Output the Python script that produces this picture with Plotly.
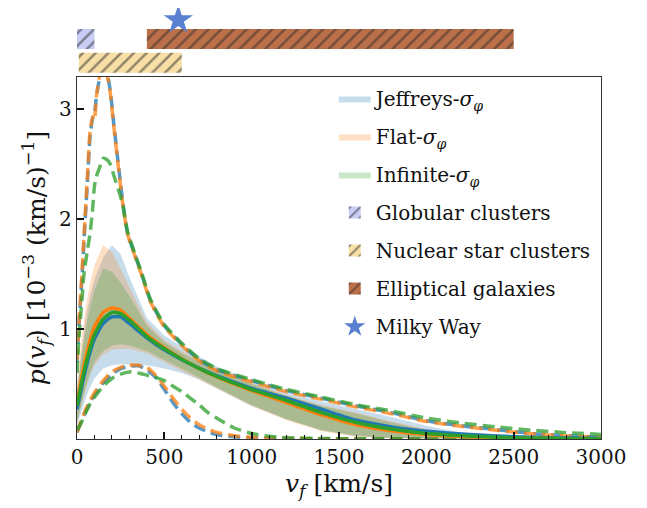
import plotly.graph_objects as go

# ---------------- data ----------------
V = [0, 25, 50, 75, 100, 150, 200, 250, 300, 400, 500, 600, 700, 800, 1000,
     1200, 1400, 1600, 1800, 2000, 2200, 2400, 2600, 2800, 3000]

med_jeffreys = [0.27, 0.46, 0.64, 0.79, 0.91, 1.05, 1.11, 1.11, 1.05, 0.92, 0.81, 0.72, 0.645, 0.575, 0.46,
                0.37, 0.27, 0.17, 0.11, 0.07, 0.045, 0.027, 0.015, 0.008, 0.004]
med_flat = [0.33, 0.55, 0.74, 0.90, 1.02, 1.15, 1.19, 1.17, 1.10, 0.95, 0.83, 0.73, 0.64, 0.565, 0.44,
            0.33, 0.22, 0.13, 0.075, 0.04, 0.022, 0.012, 0.006, 0.003, 0.001]
med_infinite = [0.30, 0.50, 0.68, 0.83, 0.95, 1.09, 1.15, 1.14, 1.08, 0.93, 0.82, 0.725, 0.64, 0.57, 0.45,
                0.35, 0.24, 0.15, 0.09, 0.05, 0.03, 0.015, 0.008, 0.004, 0.002]

band_hi_jeffreys = [0.45, 0.80, 1.10, 1.30, 1.45, 1.65, 1.76, 1.68, 1.47, 1.10, 0.94, 0.84, 0.75, 0.66, 0.53,
                    0.42, 0.34, 0.27, 0.20, 0.12, 0.06, 0.03, 0.015, 0.008, 0.004]
band_hi_flat = [0.50, 0.90, 1.20, 1.42, 1.58, 1.76, 1.70, 1.55, 1.38, 1.06, 0.90, 0.80, 0.72, 0.64, 0.51,
                0.40, 0.31, 0.24, 0.16, 0.09, 0.045, 0.02, 0.01, 0.005, 0.002]
band_hi_infinite = [0.42, 0.75, 1.00, 1.20, 1.35, 1.55, 1.52, 1.42, 1.30, 1.03, 0.88, 0.78, 0.70, 0.62, 0.50,
                    0.39, 0.30, 0.23, 0.15, 0.08, 0.04, 0.02, 0.01, 0.005, 0.002]

band_lo_jeffreys = [0.12, 0.25, 0.37, 0.47, 0.55, 0.64, 0.67, 0.68, 0.68, 0.67, 0.64, 0.60, 0.54, 0.46, 0.30,
                    0.18, 0.08, 0.025, 0.01, 0.005, 0.002, 0.001, 0.0, 0.0, 0.0]
band_lo_flat = [0.15, 0.30, 0.45, 0.58, 0.67, 0.77, 0.81, 0.82, 0.82, 0.78, 0.70, 0.62, 0.54, 0.46, 0.30,
                0.17, 0.07, 0.02, 0.008, 0.004, 0.002, 0.001, 0.0, 0.0, 0.0]
band_lo_infinite = [0.15, 0.32, 0.48, 0.60, 0.70, 0.80, 0.85, 0.86, 0.85, 0.80, 0.72, 0.64, 0.56, 0.47, 0.31,
                    0.18, 0.08, 0.03, 0.01, 0.005, 0.002, 0.001, 0.0, 0.0, 0.0]

VU = [0, 10, 20, 30, 40, 60, 75, 90, 100, 110, 130, 150, 170, 190, 210, 240, 260, 290, 330, 370, 420,
      500, 600, 700, 800, 1000, 1200, 1400, 1600, 1800, 2000, 2200, 2400, 2600, 2800, 3000]
outer_hi_jeffreys = [0.70, 1.00, 1.25, 1.50, 1.80, 2.35, 2.75, 2.92, 2.95, 3.10, 3.28, 3.36, 3.33, 3.17, 2.87,
                     2.45, 2.18, 1.87, 1.68, 1.50, 1.26, 1.03, 0.86, 0.72, 0.63, 0.53, 0.44, 0.37, 0.30,
                     0.24, 0.165, 0.12, 0.085, 0.05, 0.03, 0.018]
outer_hi_flat = [0.72, 1.02, 1.28, 1.55, 1.85, 2.40, 2.80, 2.93, 2.90, 3.10, 3.30, 3.38, 3.32, 3.15, 2.85,
                 2.43, 2.16, 1.86, 1.67, 1.49, 1.25, 1.02, 0.85, 0.71, 0.62, 0.52, 0.43, 0.36, 0.29,
                 0.23, 0.16, 0.115, 0.08, 0.048, 0.028, 0.016]
outer_hi_infinite = [0.60, 0.90, 1.10, 1.30, 1.50, 1.72, 1.87, 2.10, 2.30, 2.38, 2.47, 2.55, 2.54, 2.50, 2.40,
                     2.25, 2.14, 1.88, 1.69, 1.51, 1.27, 1.04, 0.87, 0.73, 0.64, 0.54, 0.45, 0.38, 0.31,
                     0.255, 0.19, 0.145, 0.11, 0.08, 0.058, 0.042]

VL = [0, 25, 50, 75, 100, 150, 200, 250, 300, 350, 400, 450, 500, 550, 600, 650, 700, 750, 800, 900,
      1000, 1100, 1200, 1400, 1600, 2000, 2500, 3000]
outer_lo_jeffreys = [0.06, 0.16, 0.25, 0.33, 0.40, 0.51, 0.59, 0.64, 0.66, 0.665, 0.63, 0.56, 0.45, 0.33,
                     0.23, 0.15, 0.10, 0.065, 0.04, 0.02, 0.01, 0.006, 0.004, 0.002, 0.001, 0.0, 0.0, 0.0]
outer_lo_flat = [0.06, 0.17, 0.27, 0.35, 0.42, 0.53, 0.61, 0.65, 0.67, 0.67, 0.65, 0.58, 0.48, 0.37,
                 0.27, 0.19, 0.13, 0.09, 0.06, 0.03, 0.015, 0.008, 0.005, 0.002, 0.001, 0.0, 0.0, 0.0]
outer_lo_infinite = [0.08, 0.15, 0.24, 0.32, 0.38, 0.48, 0.55, 0.59, 0.61, 0.60, 0.58, 0.56, 0.53, 0.48,
                     0.43, 0.37, 0.31, 0.24, 0.19, 0.10, 0.05, 0.025, 0.012, 0.005, 0.002, 0.001, 0.0, 0.0]

model_names = ["Jeffreys-<i>σ</i><sub><i>φ</i></sub>", "Flat-<i>σ</i><sub><i>φ</i></sub>",
               "Infinite-<i>σ</i><sub><i>φ</i></sub>"]

# observed ranges of v_f [km/s]
range_names = ["Globular clusters", "Nuclear star clusters", "Elliptical galaxies"]
range_lo = [0, 10, 400]
range_hi = [100, 600, 2500]
milky_way_vf = 580

# ---------------- style ----------------
colors = ["#1f77b4", "#ff7f0e", "#2ca02c"]
fills = ["rgba(31,119,180,0.25)", "rgba(255,127,14,0.25)", "rgba(44,160,44,0.25)"]
range_colors = ["#c9cdf5", "#f8dfa6", "#bc7049"]
range_rows = [37, 13.3, 37]
FONT = "DejaVu Serif"

fig = go.Figure()

meds = [med_jeffreys, med_flat, med_infinite]
his = [band_hi_jeffreys, band_hi_flat, band_hi_infinite]
los = [band_lo_jeffreys, band_lo_flat, band_lo_infinite]
ohi = [outer_hi_jeffreys, outer_hi_flat, outer_hi_infinite]
olo = [outer_lo_jeffreys, outer_lo_flat, outer_lo_infinite]

for i in range(3):
    fig.add_trace(go.Scatter(
        x=V + V[::-1], y=his[i] + los[i][::-1], fill="toself", fillcolor=fills[i],
        mode="lines", line=dict(width=0), name=model_names[i], legendgroup=f"g{i}",
        hoverinfo="skip"))

for i in range(3):
    for xs, ys in ((VU, ohi[i]), (VL, olo[i])):
        fig.add_trace(go.Scatter(x=xs, y=ys, mode="lines", showlegend=False,
                                 line=dict(color=colors[i], width=3.5, dash="12px,6px",
                                           shape="spline", smoothing=0.6),
                                 opacity=0.75))

for i in range(3):
    fig.add_trace(go.Scatter(x=V, y=meds[i], mode="lines", showlegend=False,
                             line=dict(color=colors[i], width=3.5, shape="spline", smoothing=0.6)))

for j in range(3):
    fig.add_trace(go.Bar(
        y=[range_rows[j]], x=[range_hi[j] - range_lo[j]], base=[range_lo[j]], orientation="h",
        width=20, name=range_names[j], legendgroup=f"r{j}",
        marker=dict(color=range_colors[j], line=dict(width=0),
                    pattern=dict(shape="/", fgcolor="#2a2a2a", size=9, solidity=0.28)),
        xaxis="x2", yaxis="y2", hoverinfo="skip"))

fig.add_trace(go.Scatter(x=[milky_way_vf], y=[56], mode="markers", name="Milky Way", legendgroup="mw",
                         marker=dict(symbol="star", size=22, color="#5b80d0"),
                         xaxis="x2", yaxis="y2", cliponaxis=False))

axis_common = dict(showline=True, linecolor="#333333", linewidth=1.3, mirror=True, showgrid=False,
                   zeroline=False, ticks="inside", ticklen=7, tickwidth=1.5, tickcolor="#111111",
                   automargin=False,
                   tickfont=dict(family=FONT, size=20, color="#111111"))

# the page body adds an 8px offset, so the figure is laid out 8px smaller
fig.update_layout(
    width=639, height=500,
    margin=dict(l=69, r=46, t=0, b=69),
    plot_bgcolor="white", paper_bgcolor="white",
    barmode="overlay",
    font=dict(family=FONT, color="#111111"),
    xaxis=dict(range=[0, 3000], tickvals=[0, 500, 1000, 1500, 2000, 2500, 3000],
               minor=dict(dtick=100, ticks="inside", ticklen=4, tickwidth=1.2, tickcolor="#111111"),
               title=dict(text="<i>v</i><sub><i>f</i></sub> [km/s]", font=dict(family=FONT, size=25), standoff=2),
               **axis_common),
    yaxis=dict(domain=[0, 0.8399], range=[0, 3.29], tickvals=[1, 2, 3],
               title=dict(text="<i>p</i>(<i>v</i><sub><i>f</i></sub>) [10<sup>−3</sup> (km/s)<sup>−1</sup>]",
                          font=dict(family=FONT, size=25), standoff=6),
               **axis_common),
    xaxis2=dict(matches="x", anchor="y2", visible=False, range=[0, 3000]),
    yaxis2=dict(domain=[0.8422, 1], range=[0, 68], visible=False),
    legend=dict(x=0.49, y=0.835, xanchor="left", yanchor="top", bgcolor="rgba(0,0,0,0)",
                font=dict(family=FONT, size=20, color="#111111"), traceorder="grouped",
                tracegroupgap=9, itemwidth=32),
    showlegend=True,
)

fig.write_html("out.html")
